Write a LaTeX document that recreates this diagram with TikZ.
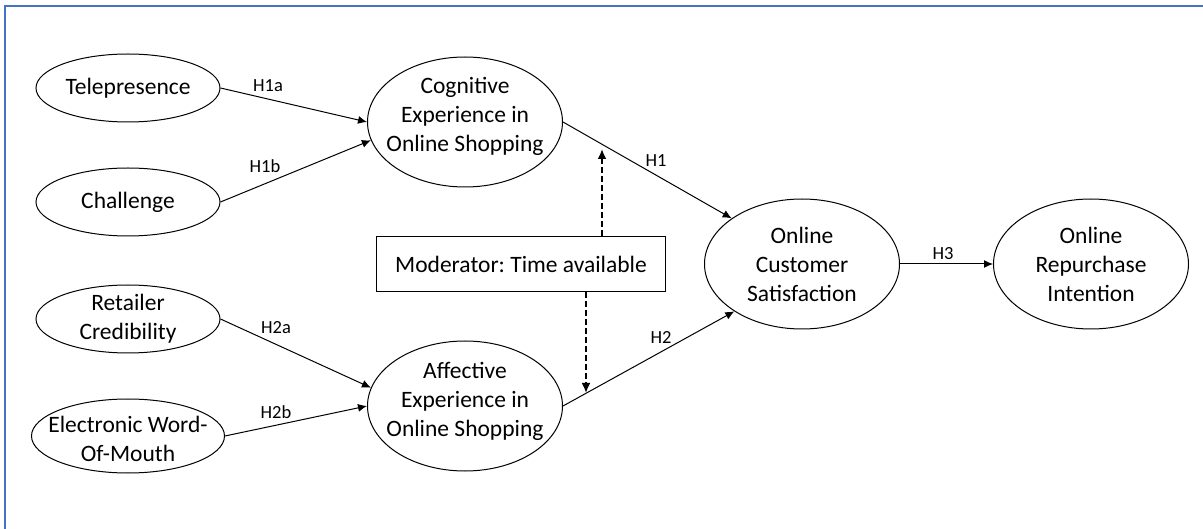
\documentclass[tikz,border=0pt]{standalone}
\usepackage{fontspec}
\setmainfont{Carlito}
\frenchspacing
\usetikzlibrary{arrows.meta,shapes.geometric}

\begin{document}
\begin{tikzpicture}[x=1pt,y=-1pt,
    every node/.style={font=\fontsize{23.5}{29}\selectfont},
    factor/.style={draw,ellipse,inner sep=0pt,line width=1,minimum width=184,minimum height=68},
    big/.style={minimum width=195,minimum height=130},
    txt/.style={align=center,inner sep=0pt},
    link/.style={-{Latex[length=9,width=8]},line width=1},
    modlink/.style={-{Latex[length=10,width=9]},line width=2.2,dash pattern=on 6pt off 3pt},
    hyp/.style={font=\fontsize{18.5}{22}\selectfont,inner sep=0pt}]
  \useasboundingbox (0,0) rectangle (1203,529);
  % frame
  \draw[color={rgb,255:red,68;green,114;blue,196},line width=2] (1203,6) -- (5,6) -- (5,529);

  % antecedents
  \node[factor,label={[txt]center:Telepresence}] (tele) at (128,88) {};
  \node[factor,label={[txt]center:Challenge}] (chal) at (128,202) {};
  \node[factor,label={[txt]center:{Retailer\\Credibility}}] (ret) at (128,319) {};
  \node[factor,minimum width=193,minimum height=74,
        label={[txt,yshift=-3]center:{Electronic Word-\\Of-Mouth}}] (ewom) at (128,436) {};

  % experiences
  \node[factor,big,label={[txt,yshift=6]center:{Cognitive\\Experience in\\Online Shopping}}] (cog) at (465,122) {};
  \node[factor,big,label={[txt,yshift=5]center:{Affective\\Experience in\\Online Shopping}}] (aff) at (465,406) {};

  % outcomes
  \node[factor,big,label={[txt]center:{Online\\Customer\\Satisfaction}}] (sat) at (802,264) {};
  \node[factor,big,label={[txt]center:{Online\\Repurchase\\Intention}}] (rep) at (1091,264) {};

  % moderator
  \node[draw,line width=1,minimum width=289,minimum height=55,inner sep=0pt] (mod) at (521,264) {Moderator: Time available};

  \draw[link] (tele.east) -- (cog.west);
  \draw[link] (chal.east) -- (cog.191);
  \draw[link] (ret.east) -- (aff.169);
  \draw[link] (ewom.east) -- (aff.west);
  \draw[link] (cog.east) -- (sat.147);
  \draw[link] (aff.east) -- (sat.215);
  \draw[link] (sat.east) -- (rep.west);

  \coordinate (m1) at (602,149);
  \coordinate (m2) at (586,393);
  \draw[modlink] (mod.north -| m1) -- (m1);
  \draw[modlink] (mod.south -| m2) -- (m2);

  \node[hyp] (h1a) at (268,86) {H1a};
  \node[hyp] (h1b) at (265,166) {H1b};
  \node[hyp] (h2a) at (276,328) {H2a};
  \node[hyp] (h2b) at (276,412) {H2b};
  \node[hyp] (h1) at (656,161) {H1};
  \node[hyp] (h2) at (661,337) {H2};
  \node[hyp] (h3) at (943,254) {H3};
\end{tikzpicture}
\end{document}
